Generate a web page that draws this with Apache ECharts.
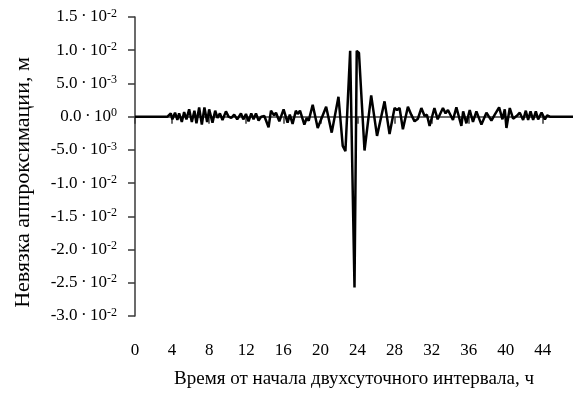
<!DOCTYPE html>
<html>
<head>
<meta charset="utf-8">
<script src="https://cdn.jsdelivr.net/npm/echarts@6/dist/echarts.min.js"></script>
<style>
  html, body { margin: 0; padding: 0; background: #fff; }
  #chart { width: 573px; height: 394px; }
</style>
</head>
<body>
<div id="chart"></div>
<script>
// время, ч (точки перегиба кривой)
const hours = [
  0, 3.5, 3.68, 3.86, 4.03, 4.32, 4.57, 4.76, 5.05, 5.3, 5.55, 5.84, 6.13, 6.41, 6.63,
  6.92, 7.21, 7.49, 7.78, 8.0, 8.36, 8.65, 8.9, 9.16, 9.44, 9.81, 10.09,
  10.38, 10.7, 11.03, 11.43, 11.68, 11.97, 12.25, 12.54, 12.79, 13.05, 13.33, 13.62,
  13.95, 14.16, 14.41, 14.67, 15.0, 15.21, 15.57, 16.03, 16.46, 16.7, 17.0, 17.35,
  17.55, 17.8, 18.27, 18.52, 18.74, 19.17, 19.71, 20.62, 21.22, 21.95, 22.41, 22.7,
  23.21, 23.68, 23.92, 24.16, 24.76, 25.48, 26.11, 26.92, 27.46, 28.0, 28.27, 28.54,
  28.9, 29.44, 29.8, 30.16, 30.52, 30.89, 31.24, 31.49, 31.78, 32.3, 32.65, 33.22,
  33.5, 33.76, 34.3, 34.67, 35.21, 35.4, 35.75, 36.11, 36.46, 36.83, 37.37, 37.91,
  38.45, 38.81, 39.28, 39.64, 39.89, 40.07, 40.43, 40.79, 41.16, 41.51, 41.87, 42.16,
  42.41, 42.67, 42.95, 43.24, 43.49, 43.86, 44.22, 44.46, 44.76, 47.25
];

// невязка аппроксимации, м
const residual = [
  0, 0, -0.0003, 0.0005, -0.0004, 0.0006, -0.0005, 0.0005, -0.0008, 0.0007, -0.0004, 0.0011, -0.0008, 0.0009, -0.001,
  0.0014, -0.0012, 0.0014, -0.0008, 0.0011, -0.0009, 0.0009, -0.0002, 0.0005, -0.0005, 0.0008, 0,
  -0.0002, 0.0003, -0.0004, 0.0005, -0.0004, 0.0004, -0.0007, 0.0005, -0.0004, 0.0005, -0.0006, 0,
  0.0001, 0.0003, -0.0016, 0.0009, 0.0002, 0.0006, -0.0007, 0.0011, -0.0009, 0.0003, -0.0011, 0.0009,
  0.0004, 0.0009, -0.0012, -0.0002, -0.0006, 0.0018, -0.0017, 0.0015, -0.0024, 0.003, -0.0044, -0.0052,
  0.0099, -0.0257, 0.0099, 0.0096, -0.0051, 0.0032, -0.0029, 0.0023, -0.0026, 0.0013, 0.001, 0.0013,
  -0.0019, 0.0015, 0.0003, -0.0007, -0.0003, 0.0013, 0.0001, 0.0003, -0.0014, 0.0013, -0.0004, 0.0013,
  0.0005, 0.001, -0.0005, 0.0014, -0.0014, 0.0008, -0.001, 0.001, -0.0008, 0.0008, -0.0012, 0.0006,
  -0.0006, 0.0003, 0.0014, -0.0004, 0.0011, -0.0017, 0.0013, -0.0003, 0.0001, 0.0006, -0.0005, 0.0009,
  -0.0005, 0.0008, -0.0005, 0.0008, -0.0004, 0.0006, -0.0004, 0.0002, 0, 0
];

const serif = "'Liberation Serif', 'DejaVu Serif', serif";

// подпись вида 1.5·10^-2
const sciLabel = (v) => {
  v = Math.round(v * 1e6) / 1e6;
  if (v === 0) return "{m|0.0\u2009·\u200910}{s|0}";
  const exp = Math.floor(Math.log10(Math.abs(v)) + 1e-9);
  const mant = (v / Math.pow(10, exp)).toFixed(1);
  return `{m|${mant}\u2009·\u200910}{s|${exp}}`;
};

const chart = echarts.init(document.getElementById("chart"));

const option = {
  animation: false,
  grid: { left: 135, right: 0, top: 17, bottom: 72 },
  xAxis: {
    type: "value",
    min: 0,
    max: 47.25,
    interval: 4,
    name: "Время от начала двухсуточного интервала, ч",
    nameLocation: "middle",
    nameGap: 54,
    nameTextStyle: { fontFamily: serif, fontSize: 19, color: "#000" },
    axisLine: { lineStyle: { color: "#3a3a3a", width: 1.5 } },
    axisTick: { length: 7, lineStyle: { color: "#3a3a3a", width: 1.5 } },
    axisLabel: {
      margin: 26,
      fontFamily: serif,
      fontSize: 17,
      color: "#000",
      showMaxLabel: false
    },
    splitLine: { show: false }
  },
  yAxis: {
    type: "value",
    min: -0.03,
    max: 0.015,
    interval: 0.005,
    name: "Невязка аппроксимации, м",
    nameLocation: "middle",
    nameGap: 101,
    nameTextStyle: {
      fontFamily: serif,
      fontSize: 22,
      color: "#000",
      padding: [0, 32, 0, 0]
    },
    axisLine: { show: true, onZero: false, lineStyle: { color: "#3a3a3a", width: 1.5 } },
    axisTick: { show: true, length: 7, lineStyle: { color: "#3a3a3a", width: 1.5 } },
    axisLabel: {
      margin: 18,
      formatter: sciLabel,
      rich: {
        m: { fontFamily: serif, fontSize: 17, color: "#000", lineHeight: 19 },
        s: { fontFamily: serif, fontSize: 12, color: "#000", verticalAlign: "top" }
      }
    },
    splitLine: { show: false }
  },
  series: [
    {
      type: "line",
      data: hours.map((h, i) => [h, residual[i]]),
      symbol: "none",
      lineStyle: { color: "#000", width: 2.5 }
    }
  ]
};

chart.setOption(option);
</script>
</body>
</html>
